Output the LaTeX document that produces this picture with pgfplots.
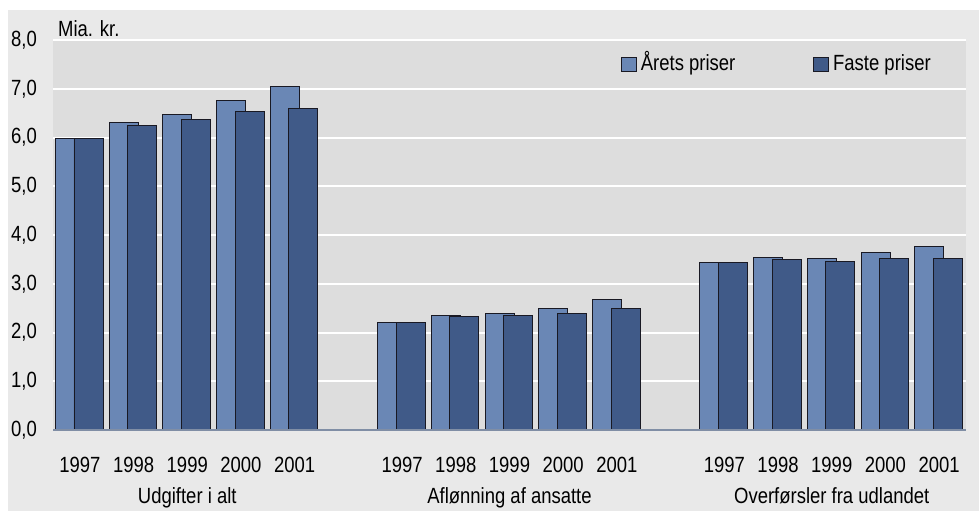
\documentclass[border=0pt]{standalone}
\usepackage{fontspec}
\setmainfont{Liberation Sans}[FakeStretch=0.84]
\usepackage{pgfplots}
\usepackage{pgfplotstable}
\pgfplotsset{compat=1.18}
\definecolor{outerbg}{RGB}{233,233,233}
\definecolor{plotbg}{RGB}{221,221,221}
\definecolor{lightbar}{RGB}{106,135,181}
\definecolor{darkbar}{RGB}{64,90,136}
\definecolor{baraxis}{RGB}{128,142,165}
\definecolor{barline}{RGB}{25,25,35}
\pgfplotstableread{
x y
0 5.98
1 6.31
2 6.48
3 6.76
4 7.05
6 2.21
7 2.35
8 2.39
9 2.49
10 2.68
12 3.44
13 3.54
14 3.52
15 3.64
16 3.77
}\aretspriser
\pgfplotstableread{
x y
0 5.98
1 6.25
2 6.37
3 6.54
4 6.60
6 2.21
7 2.33
8 2.35
9 2.39
10 2.50
12 3.44
13 3.50
14 3.46
15 3.51
16 3.52
}\fastepriser
\begin{document}
\fontsize{22bp}{26bp}\selectfont
\begin{tikzpicture}
\useasboundingbox (0,0) rectangle (979bp,511bp);
\fill[outerbg] (8bp,0) rectangle (979bp,501bp);
\node[anchor=base west, inner sep=0pt] at (58bp,474bp) {Mia. kr.};
\begin{axis}[
  at={(53bp,81bp)}, anchor=south west,
  width=913bp, height=390bp, scale only axis,
  xmin=-0.5, xmax=16.5, ymin=0, ymax=8,
  clip=false,
  axis background/.style={fill=plotbg},
  axis line style={draw=none},
  major tick style={draw=none},
  ytick={0,1,...,8},
  ymajorgrids, grid style={white, line width=2bp},
  y tick label style={/pgf/number format/.cd, fixed, fixed zerofill, precision=1, use comma, assume math mode=true, /tikz/.cd, anchor=east, inner sep=0pt},
  yticklabel shift=16bp,
  xtick={0,1,2,3,4,6,7,8,9,10,12,13,14,15,16},
  xticklabels={1997,1998,1999,2000,2001,1997,1998,1999,2000,2001,1997,1998,1999,2000,2001},
  x tick label style={anchor=base, inner sep=0pt},
  xticklabel shift=42bp,
  legend columns=2,
  legend style={draw=none, fill=none, at={(0.622,0.942)}, anchor=west, inner sep=0pt,
    nodes={inner sep=0pt, anchor=base west},
    /tikz/every even column/.append style={column sep=78bp},
    /tikz/every odd column/.append style={column sep=4bp}},
  legend image code/.code={\draw[#1] (0bp,-1bp) rectangle (15bp,13bp);},
]
\addplot[ybar, bar width=0.54, bar shift=-0.185, fill=lightbar, draw=barline, line width=0.8bp] table[x=x, y=y] {\aretspriser};
\addlegendentry{Årets priser}
\addplot[ybar, bar width=0.54, bar shift=0.16, fill=darkbar, draw=barline, line width=0.8bp] table[x=x, y=y] {\fastepriser};
\addlegendentry{Faste priser}
\draw[baraxis, line width=1.5bp] (rel axis cs:0,0) -- (rel axis cs:1,0);
\node[anchor=base, inner sep=0pt, yshift=-73bp] at (axis cs:2,0) {Udgifter i alt};
\node[anchor=base, inner sep=0pt, yshift=-73bp] at (axis cs:8,0) {Aflønning af ansatte};
\node[anchor=base, inner sep=0pt, yshift=-73bp] at (axis cs:14,0) {Overførsler fra udlandet};
\end{axis}
\end{tikzpicture}
\end{document}
